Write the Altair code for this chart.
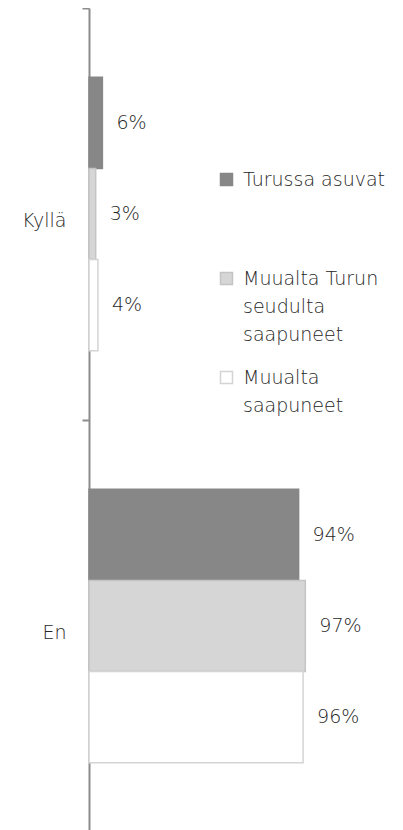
import altair as alt
import pandas as pd

categories = ["Kyllä", "En"]
series = ["Turussa asuvat", "Muualta Turun seudulta saapuneet", "Muualta saapuneet"]
values = {
    "Turussa asuvat": [6, 94],
    "Muualta Turun seudulta saapuneet": [3, 97],
    "Muualta saapuneet": [4, 96],
}
fills = ["#878787", "#d6d6d6", "#ffffff"]
strokes = ["#878787", "#c4c4c4", "#d4d4d4"]

rows = []
for s in series:
    for c, v in zip(categories, values[s]):
        rows.append({"cat": c, "series": s, "value": v, "label": f"{v}%"})
df = pd.DataFrame(rows)

FONT = "DejaVu Sans"
FW = 200
FS = 19
TXT = "#262626"

y = alt.Y("cat:N", sort=categories, title=None,
          scale=alt.Scale(paddingInner=0, paddingOuter=0),
          axis=alt.Axis(domainColor="#8c8c8c", domainWidth=2, tickColor="#8c8c8c",
                        tickWidth=2, tickSize=7, tickBand="extent", labelPadding=16,
                        labelFont=FONT, labelFontWeight=FW, labelFontSize=FS, labelColor=TXT,
                        labelAngle=0))
yoff = alt.YOffset("series:N", sort=series,
                   scale=alt.Scale(paddingInner=0, paddingOuter=0.76))
x = alt.X("value:Q", scale=alt.Scale(domain=[0, 100]), axis=None)

bars = alt.Chart(df).mark_bar(strokeWidth=1.5).encode(
    y=y, yOffset=yoff, x=x,
    color=alt.Color("series:N", sort=series, scale=alt.Scale(domain=series, range=fills),
                    legend=alt.Legend(title=None, orient="none", legendX=128, legendY=162,
                                      symbolType="square", symbolSize=144,
                                      symbolStrokeWidth=1.5, gridAlign="all",
                                      labelFont=FONT, labelFontWeight=FW, labelFontSize=FS,
                                      labelColor=TXT, labelLimit=300, rowPadding=23,
                                      labelBaseline="alphabetic", labelOffset=7,
                                      labelExpr="datum.label == 'Muualta Turun seudulta saapuneet' ? ['Muualta Turun', 'seudulta', 'saapuneet'] : datum.label == 'Muualta saapuneet' ? ['Muualta', 'saapuneet'] : datum.label")),
    stroke=alt.Stroke("series:N", sort=series, scale=alt.Scale(domain=series, range=strokes)),
)

text = alt.Chart(df).mark_text(align="left", baseline="middle", dx=14, font=FONT,
                               fontWeight=FW, fontSize=FS, color=TXT).encode(
    y=y, yOffset=yoff, x=x, text="label:N")

chart = (bars + text).properties(
    width=223, height=824,
    autosize=alt.AutoSizeParams(type="none"),
    padding={"left": 81, "top": 0, "right": 83, "bottom": 0},
).configure(
    background="white",
    view=alt.ViewConfig(stroke="transparent", strokeWidth=0),
    style={"guide-label": {"lineHeight": 28, "dy": 6}},
)

chart.save("out.html", embed_options={"renderer": "svg", "actions": False})
